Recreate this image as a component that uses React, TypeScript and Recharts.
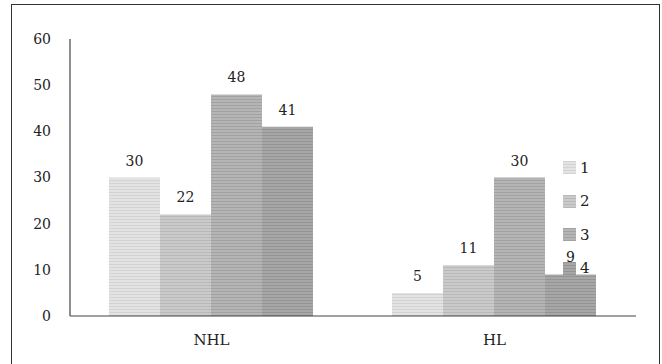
import React from 'react';
import { BarChart, Bar, XAxis, YAxis, LabelList } from 'recharts';

const categories = ['NHL', 'HL'];
const group1 = [30, 5];
const group2 = [22, 11];
const group3 = [48, 30];
const group4 = [41, 9];
const seriesNames = ['1', '2', '3', '4'];
const yTicks = [0, 10, 20, 30, 40, 50, 60];

const seriesValues = [group1, group2, group3, group4];

// striped grey fills, lightest to darkest
const fills = [
  { id: 'stripe1', base: '#e3e3e3', line: '#d3d3d3' },
  { id: 'stripe2', base: '#cacaca', line: '#b9b9b9' },
  { id: 'stripe3', base: '#b5b5b5', line: '#a2a2a2' },
  { id: 'stripe4', base: '#a7a7a7', line: '#949494' },
];

const data = categories.map((name, i) => {
  const row: Record<string, string | number> = { name };
  seriesNames.forEach((s, k) => {
    row[s] = seriesValues[k][i];
  });
  return row;
});

const FONT = '"DejaVu Serif", "Liberation Serif", serif';

// legend sits inside the plot, on the right, over the HL group
function LegendBox() {
  return (
    <div
      style={{
        position: 'absolute',
        left: 563,
        top: 151,
        fontFamily: FONT,
        fontSize: 15,
        color: '#222',
      }}
    >
      {seriesNames.map((s, k) => (
        <div
          key={s}
          style={{ display: 'flex', alignItems: 'center', height: 33.5 }}
        >
          <svg width={13} height={13} style={{ marginRight: 4 }}>
            <rect width={13} height={13} fill={`url(#${fills[k].id})`} />
          </svg>
          <span>{s}</span>
        </div>
      ))}
    </div>
  );
}

export default function App() {
  return (
    <div
      style={{
        position: 'absolute',
        left: 0,
        top: 0,
        width: 662,
        height: 364,
        overflow: 'hidden',
        background: '#fff',
      }}
    >
      <div
        style={{
          position: 'absolute',
          left: 11,
          top: 4,
          width: 647,
          height: 380,
          border: '1.5px solid #333',
        }}
      />
      <div style={{ position: 'absolute', left: 0, top: 0 }}>
        <BarChart
          width={662}
          height={364}
          data={data}
          margin={{ top: 39, right: 26, bottom: 18, left: 0 }}
          barCategoryGap={39}
          barGap={0}
        >
          <defs>
            {fills.map((f) => (
              <pattern
                key={f.id}
                id={f.id}
                width={6}
                height={3}
                patternUnits="userSpaceOnUse"
              >
                <rect width={6} height={3} fill={f.base} />
                <rect width={6} height={1} fill={f.line} />
              </pattern>
            ))}
          </defs>
          <XAxis
            dataKey="name"
            tickLine={false}
            tickMargin={12}
            axisLine={{ stroke: '#444', strokeWidth: 1.2 }}
            tick={{ fontFamily: FONT, fontSize: 15, fill: '#222' }}
            height={30}
          />
          <YAxis
            domain={[0, 60]}
            ticks={yTicks}
            width={70}
            tickLine={false}
            tickMargin={13}
            axisLine={{ stroke: '#444', strokeWidth: 1.2 }}
            tick={{ fontFamily: FONT, fontSize: 14, fill: '#222' }}
          />
          {seriesNames.map((s, k) => (
            <Bar
              key={s}
              dataKey={s}
              fill={`url(#${fills[k].id})`}
              isAnimationActive={false}
            >
              <LabelList
                dataKey={s}
                position="top"
                offset={12}
                style={{ fontFamily: FONT, fontSize: 14, fill: '#222' }}
              />
            </Bar>
          ))}
        </BarChart>
      </div>
      <LegendBox />
    </div>
  );
}
